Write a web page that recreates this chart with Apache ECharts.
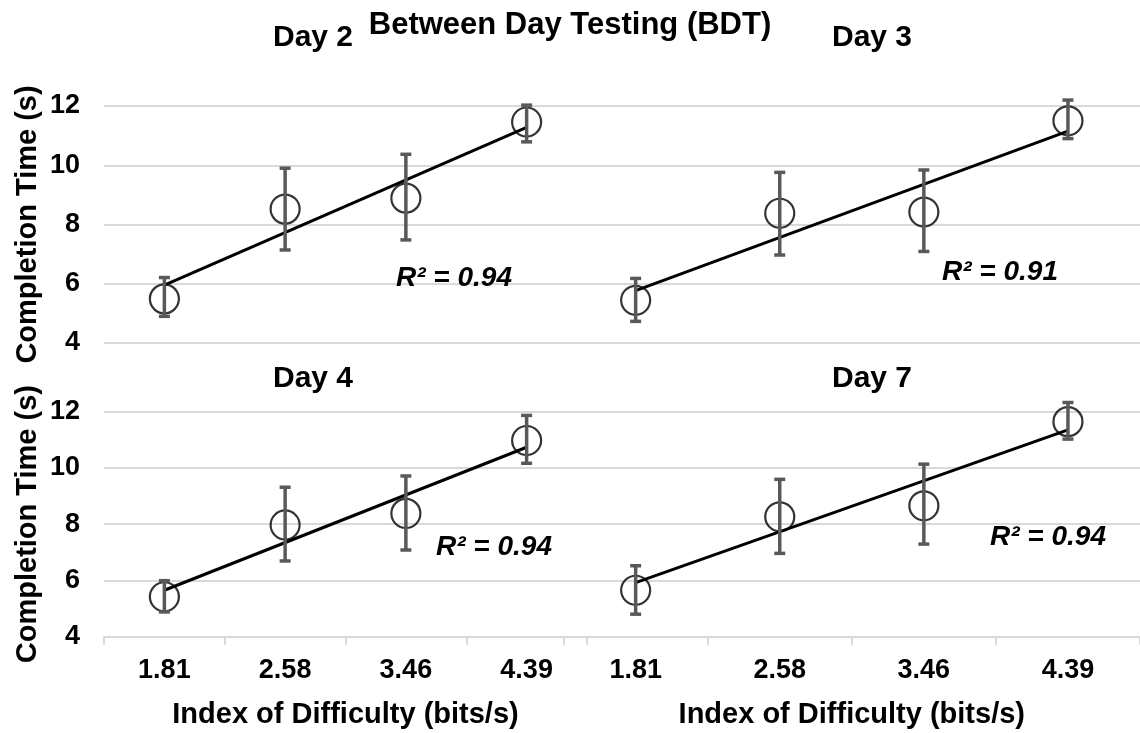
<!DOCTYPE html>
<html>
<head>
<meta charset="utf-8">
<script src="https://cdn.jsdelivr.net/npm/echarts@6/dist/echarts.min.js"></script>
<style>
html,body{margin:0;padding:0;background:#fff;}
#chart{width:1140px;height:733px;}
</style>
</head>
<body>
<div id="chart"></div>
<script>
// ---- data ----
const idLabels = ['1.81', '2.58', '3.46', '4.39'];
const yTicks = [4, 6, 8, 10, 12];
const panelTitles = ['Day 2', 'Day 3', 'Day 4', 'Day 7'];
const r2Labels = ['R\u00B2 = 0.94', 'R\u00B2 = 0.91', 'R\u00B2 = 0.94', 'R\u00B2 = 0.94'];

const day2Mean = [5.49, 8.52, 8.89, 11.46];
const day2Low  = [4.90, 7.14, 7.48, 10.79];
const day2High = [6.21, 9.90, 10.37, 12.03];
const day2Trend = [5.95, 11.28];

const day3Mean = [5.44, 8.38, 8.42, 11.50];
const day3Low  = [4.73, 6.97, 7.09, 10.90];
const day3High = [6.18, 9.76, 9.84, 12.20];
const day3Trend = [5.77, 11.15];

const day4Mean = [5.42, 7.97, 8.38, 10.97];
const day4Low  = [4.88, 6.69, 7.08, 10.16];
const day4High = [5.99, 9.31, 9.71, 11.86];
const day4Trend = [5.65, 10.73];

const day7Mean = [5.65, 8.26, 8.65, 11.64];
const day7Low  = [4.80, 6.96, 7.29, 11.02];
const day7High = [6.52, 9.59, 10.13, 12.32];
const day7Trend = [5.92, 11.35];

const mainTitle = 'Between Day Testing (BDT)';
const yTitle = 'Completion Time (s)';
const xTitle = 'Index of Difficulty (bits/s)';

// ---- layout ----
const FONT = '"Liberation Sans", Arial, sans-serif';
const panels = [
  {mean: day2Mean, low: day2Low, high: day2High, trend: day2Trend},
  {mean: day3Mean, low: day3Low, high: day3High, trend: day3Trend},
  {mean: day4Mean, low: day4Low, high: day4High, trend: day4Trend},
  {mean: day7Mean, low: day7Low, high: day7High, trend: day7Trend}
];
const grids = [
  {left: 104, top: 106, width: 483, height: 237},
  {left: 563.6, top: 106, width: 584.5, height: 237},
  {left: 104, top: 411.5, width: 483, height: 225.2},
  {left: 563.6, top: 411.5, width: 584.5, height: 225.2}
];
const titlePos = [[313, 38], [872, 38], [313, 379], [872, 379]];
const r2Pos = [[454, 278], [1000, 272], [494, 547], [1048, 537]];

const GRID_COLOR = '#d9d9d9';

const xAxes = grids.map((g, i) => {
  const bottom = i >= 2;
  return {
    type: 'category', gridIndex: i, data: idLabels, boundaryGap: true,
    axisLine: {show: bottom, lineStyle: {color: GRID_COLOR, width: 2}},
    axisTick: {show: bottom, interval: 0, length: 8, lineStyle: {color: GRID_COLOR, width: 2}},
    axisLabel: {show: bottom, interval: 0, margin: 20, color: '#000', fontSize: 27, fontWeight: 'bold', fontFamily: FONT},
    name: bottom ? xTitle : '', nameLocation: 'middle', nameGap: 64,
    nameTextStyle: {color: '#000', fontSize: 29, fontWeight: 'bold', fontFamily: FONT},
    splitLine: {show: false}
  };
});
const yAxes = grids.map((g, i) => {
  const left = i % 2 === 0;
  return {
    type: 'value', gridIndex: i, min: yTicks[0], max: yTicks[yTicks.length - 1], interval: 2,
    axisLine: {show: false}, axisTick: {show: false},
    axisLabel: {show: left, margin: 24, color: '#000', fontSize: 27, fontWeight: 'bold', fontFamily: FONT},
    splitLine: {show: true, lineStyle: {color: GRID_COLOR, width: 2}},
    name: left ? yTitle : '', nameLocation: 'middle', nameRotate: 90, nameGap: 62,
    nameTextStyle: {color: '#000', fontSize: 29, fontWeight: 'bold', fontFamily: FONT}
  };
});

const series = [];
panels.forEach((p, i) => {
  const trendData = idLabels.map((c, k) => k === 0 ? p.trend[0] : (k === idLabels.length - 1 ? p.trend[1] : null));
  series.push({
    type: 'line', xAxisIndex: i, yAxisIndex: i, data: trendData, connectNulls: true,
    symbol: 'none', lineStyle: {color: '#000', width: 3}, z: 2, silent: true
  });
  series.push({
    type: 'scatter', xAxisIndex: i, yAxisIndex: i, data: p.mean,
    symbol: 'circle', symbolSize: 29,
    itemStyle: {color: 'rgba(0,0,0,0)', borderColor: '#000', borderWidth: 2.2}, z: 3
  });
  series.push({
    type: 'custom', xAxisIndex: i, yAxisIndex: i, z: 4,
    data: p.low.map((lo, k) => [k, lo, p.high[k]]),
    renderItem: function (params, api) {
      const x = api.value(0);
      const a = api.coord([x, api.value(1)]);
      const b = api.coord([x, api.value(2)]);
      const hw = 5.5;
      const st = {stroke: '#595959', lineWidth: 3.5};
      return {
        type: 'group',
        children: [
          {type: 'line', shape: {x1: a[0], y1: a[1], x2: b[0], y2: b[1]}, style: st},
          {type: 'line', shape: {x1: a[0] - hw, y1: a[1], x2: a[0] + hw, y2: a[1]}, style: st},
          {type: 'line', shape: {x1: b[0] - hw, y1: b[1], x2: b[0] + hw, y2: b[1]}, style: st}
        ]
      };
    }
  });
});

const graphics = [];
graphics.push({
  type: 'text', left: 'center', top: 10, z: 100,
  style: {text: mainTitle, fill: '#000', font: 'bold 31px ' + FONT}
});
panelTitles.forEach((t, i) => {
  graphics.push({
    type: 'text', x: titlePos[i][0], y: titlePos[i][1], z: 100,
    style: {text: t, fill: '#000', font: 'bold 30px ' + FONT, textAlign: 'center', textVerticalAlign: 'middle'}
  });
});
r2Labels.forEach((t, i) => {
  graphics.push({
    type: 'text', x: r2Pos[i][0], y: r2Pos[i][1], z: 100,
    style: {text: t, fill: '#000', font: 'italic bold 28px ' + FONT, textAlign: 'center', textVerticalAlign: 'middle'}
  });
});

const chart = echarts.init(document.getElementById('chart'), null, {renderer: 'canvas'});
chart.setOption({
  animation: false,
  backgroundColor: '#fff',
  grid: grids.map(g => Object.assign({containLabel: false}, g)),
  xAxis: xAxes,
  yAxis: yAxes,
  series: series,
  graphic: graphics
});
</script>
</body>
</html>
